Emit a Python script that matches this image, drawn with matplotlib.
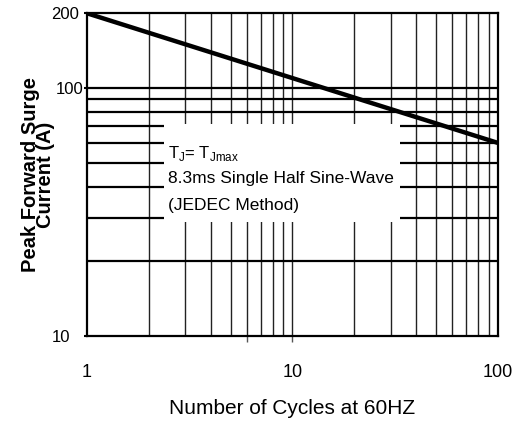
import numpy as np
import matplotlib.pyplot as plt
from matplotlib.ticker import FixedLocator, FixedFormatter, NullFormatter
from matplotlib.patches import Rectangle

plt.rcParams['font.family'] = ['Liberation Sans', 'DejaVu Sans']

cycles = [1, 100]          # number of cycles at 60 Hz
current = [200, 60]        # peak forward surge current (A)
x_ticks = [1, 10, 100]
x_tick_labels = ['1', '10', '100']
y_ticks = [10, 100, 200]
y_tick_labels = ['10', '100', '200']

fig = plt.figure(figsize=(5.26, 4.26), dpi=100)
ax = fig.add_axes([0.165, 0.211, 0.782, 0.758])
ax.set_xscale('log')
ax.set_yscale('log')
ax.set_xlim(1, 100)
ax.set_ylim(10, 200)

# grid lines
for v in [2, 3, 4, 5, 6, 7, 8, 9, 10, 20, 30, 40, 50, 60, 70, 80, 90]:
    ax.axvline(v, color='#222222', lw=1.0, zorder=1)
for h in [20, 30, 40, 50, 60, 70, 80, 90, 100]:
    ax.axhline(h, color='black', lw=1.6, zorder=1)

# white box behind the note
ax.add_patch(Rectangle((0.187, 0.353), 0.575, 0.303, transform=ax.transAxes,
                       facecolor='white', edgecolor='none', zorder=2))

ax.plot(cycles, current, color='black', lw=3.2, zorder=3, solid_capstyle='butt')

ax.text(0.197, 0.567, r'T$_\mathregular{J}$= T$_\mathregular{Jmax}$', transform=ax.transAxes,
        fontsize=12, va='center', zorder=4)
ax.text(0.197, 0.489, '8.3ms Single Half Sine-Wave', transform=ax.transAxes,
        fontsize=12.5, va='center', zorder=4)
ax.text(0.197, 0.406, '(JEDEC Method)', transform=ax.transAxes,
        fontsize=12.5, va='center', zorder=4)

ax.xaxis.remove_overlapping_locs = False
ax.xaxis.set_major_locator(FixedLocator(x_ticks))
ax.xaxis.set_minor_locator(FixedLocator([6, 10]))
ax.xaxis.set_major_formatter(FixedFormatter(x_tick_labels))
ax.xaxis.set_minor_formatter(NullFormatter())
ax.yaxis.set_major_locator(FixedLocator(y_ticks))
ax.yaxis.set_minor_locator(FixedLocator([]))
ax.yaxis.set_major_formatter(FixedFormatter(y_tick_labels))
ax.yaxis.set_minor_formatter(NullFormatter())
ax.tick_params(axis='x', which='major', length=0, pad=20, labelsize=13)
ax.tick_params(axis='x', which='minor', length=4, width=1.0, color='#555555')
ax.tick_params(axis='y', length=2.2, width=1.5, pad=0.3, labelsize=12)
# the printed labels sit at slightly different offsets from the axis
y_pads = [10, 0.3, 3.5]
for tick, p in zip(ax.yaxis.get_major_ticks(), y_pads):
    tick.set_pad(p)

for s in ax.spines.values():
    s.set_linewidth(1.6)

ax.set_xlabel('Number of Cycles at 60HZ', fontsize=15, labelpad=13)
ax.set_ylabel('Peak Forward Surge\nCurrent (A)', fontsize=14.5, fontweight='bold',
              linespacing=0.75, labelpad=-3)

fig.savefig('out.png', dpi=100)
